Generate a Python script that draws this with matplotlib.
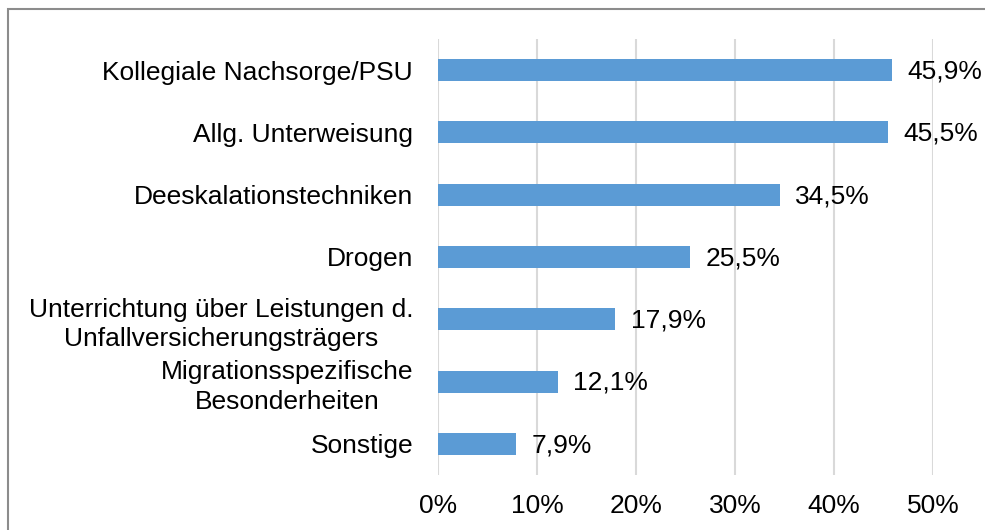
import matplotlib.pyplot as plt
from matplotlib.patches import Rectangle
from matplotlib.ticker import FuncFormatter

plt.rcParams['font.family'] = ['Liberation Sans', 'DejaVu Sans']

categories = ['Kollegiale Nachsorge/PSU',
              'Allg. Unterweisung',
              'Deeskalationstechniken',
              'Drogen',
              'Unterrichtung über Leistungen d.\nUnfallversicherungsträgers',
              'Migrationsspezifische\nBesonderheiten',
              'Sonstige']
values = [45.9, 45.5, 34.5, 25.5, 17.9, 12.1, 7.9]
xticks = [0, 10, 20, 30, 40, 50]

fig = plt.figure(figsize=(9.85, 5.3), dpi=100)
ax = fig.add_axes([0.4447, 0.1038, 0.5025, 0.8226])

pos = list(range(len(categories)))[::-1]
ax.barh(pos, values, height=0.353, color='#5B9BD5', zorder=3)

for p, v in zip(pos, values):
    ax.annotate(f'{v:.1f}%'.replace('.', ','), (v, p), xytext=(11, -1),
                textcoords='offset points', va='center', ha='left', fontsize=19)

ax.set_xlim(0, 50)
ax.set_ylim(-0.5, len(categories) - 0.5)
ax.set_xticks(xticks)
ax.xaxis.set_major_formatter(FuncFormatter(lambda x, _: f'{x:.0f}%'))
ax.set_yticks(pos)
ax.set_yticklabels(categories, multialignment='center', linespacing=1.3)
ax.tick_params(axis='y', length=0, pad=18, labelsize=19)
ax.tick_params(axis='x', length=0, pad=14, labelsize=19)
ax.grid(axis='x', color='#d9d9d9', linewidth=1.5, zorder=0)
for s in ax.spines.values():
    s.set_visible(False)

# outer chart frame
fig.patches.append(Rectangle((8 / 985, -0.1), 1.2, 1.1 - 9 / 530,
                             transform=fig.transFigure, fill=False,
                             edgecolor='#8c8c8c', linewidth=1.5))

fig.savefig('out.png', dpi=100)
